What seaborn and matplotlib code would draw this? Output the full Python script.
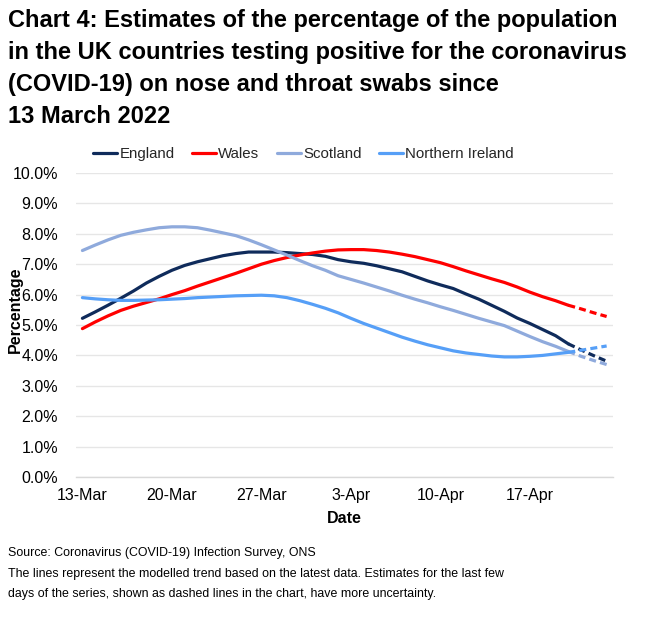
"""Chart 4: COVID-19 positivity estimates for the UK countries since 13 March 2022."""

import matplotlib.pyplot as plt
import numpy as np
import pandas as pd
import seaborn as sns

dates = pd.date_range("2022-03-13", "2022-04-23", freq="D")

england = [
    5.22, 5.43, 5.65, 5.88, 6.12, 6.38, 6.60, 6.80, 6.96, 7.08,
    7.18, 7.28, 7.35, 7.40, 7.40, 7.40, 7.38, 7.35, 7.32, 7.26,
    7.15, 7.08, 7.03, 6.95, 6.85, 6.75, 6.60, 6.45, 6.32, 6.20,
    6.02, 5.85, 5.65, 5.45, 5.23, 5.05, 4.85, 4.65, 4.38, 4.18,
    3.99, 3.81,
]
wales = [
    4.88, 5.10, 5.30, 5.48, 5.62, 5.74, 5.86, 6.00, 6.13, 6.28,
    6.42, 6.56, 6.70, 6.85, 7.00, 7.12, 7.22, 7.30, 7.37, 7.43,
    7.47, 7.48, 7.48, 7.45, 7.40, 7.33, 7.25, 7.15, 7.05, 6.92,
    6.78, 6.65, 6.52, 6.40, 6.25, 6.08, 5.93, 5.80, 5.65, 5.53,
    5.40, 5.28,
]
scotland = [
    7.45, 7.63, 7.80, 7.95, 8.05, 8.13, 8.20, 8.23, 8.23, 8.20,
    8.12, 8.03, 7.94, 7.80, 7.64, 7.47, 7.30, 7.12, 6.95, 6.80,
    6.62, 6.50, 6.38, 6.25, 6.12, 5.98, 5.85, 5.73, 5.60, 5.48,
    5.35, 5.22, 5.10, 4.98, 4.80, 4.62, 4.45, 4.30, 4.13, 3.97,
    3.83, 3.70,
]
northern_ireland = [
    5.90, 5.86, 5.83, 5.81, 5.81, 5.82, 5.83, 5.85, 5.87, 5.90,
    5.92, 5.94, 5.96, 5.97, 5.98, 5.96, 5.90, 5.80, 5.68, 5.55,
    5.40, 5.22, 5.05, 4.90, 4.75, 4.60, 4.47, 4.35, 4.25, 4.15,
    4.08, 4.03, 3.98, 3.95, 3.95, 3.97, 4.00, 4.05, 4.10, 4.17,
    4.24, 4.31,
]

series_names = ["England", "Wales", "Scotland", "Northern Ireland"]
series_values = [england, wales, scotland, northern_ireland]
series_colors = ["#0f2b5b", "#ff0000", "#8faadc", "#569ff7"]

# last few days are provisional and drawn dashed
dashed_from = 38

sns.set_theme(style="white")
plt.rcParams["font.family"] = ["Liberation Sans", "DejaVu Sans"]

fig = plt.figure(figsize=(6.47, 6.21), dpi=100)
ax = fig.add_axes([0.1175, 0.2319, 0.83, 0.4895])

days = np.arange(len(dates))
for name, values, color in zip(series_names, series_values, series_colors):
    frame = pd.DataFrame({"day": days, "value": values})
    solid = frame[frame["day"] <= dashed_from]
    dashed = frame[frame["day"] >= dashed_from]
    sns.lineplot(data=solid, x="day", y="value", color=color, linewidth=2.3,
                 label=name, ax=ax)
    sns.lineplot(data=dashed, x="day", y="value", color=color, linewidth=2.3,
                 linestyle=(0, (2.2, 1.3)), ax=ax)

ax.set_xlim(-0.5, len(dates) - 0.5)
ax.set_ylim(0, 10)
ax.set_yticks(np.arange(0, 10.5, 1))
ax.set_yticklabels([f"{v:.1f}%" for v in np.arange(0, 10.5, 1)])
ax.set_xticks(days[::7])
ax.set_xticklabels([f"{d.day}-{d.strftime('%b')}" for d in dates[::7]])
ax.set_xticks(np.arange(-0.5, len(dates), 7), minor=True)
ax.tick_params(axis="x", which="major", length=0, pad=8, labelsize=11.5,
               colors="#000000")
ax.tick_params(axis="x", which="minor", length=5, width=1, color="#d9d9d9",
               direction="out")
ax.tick_params(axis="y", length=0, pad=13, labelsize=11.5, colors="#000000")
ax.grid(axis="y", color="#e6e6e6", linewidth=1)
ax.grid(axis="x", visible=False)
for side in ["top", "right", "left"]:
    ax.spines[side].set_visible(False)
ax.spines["bottom"].set_color("#d9d9d9")
ax.spines["bottom"].set_linewidth(1)

ax.set_xlabel("Date", fontsize=11.5, fontweight="bold", color="#000000",
              labelpad=6)
ax.set_ylabel("Percentage", fontsize=11.5, fontweight="bold", color="#000000")
ax.yaxis.set_label_coords(-0.099, 0.55)

ax.legend(loc="center", bbox_to_anchor=(0.469, 0.752), bbox_transform=fig.transFigure,
          ncol=4, frameon=False, fontsize=10.8, handlelength=1.6,
          handletextpad=0.15, columnspacing=1.15)

fig.text(0.013, 0.985,
         "Chart 4: Estimates of the percentage of the population\n"
         "in the UK countries testing positive for the coronavirus\n"
         "(COVID-19) on nose and throat swabs since\n"
         "13 March 2022",
         fontsize=17, fontweight="bold", va="top", ha="left", linespacing=1.5,
         color="#000000")

fig.text(0.013, 0.119,
         "Source: Coronavirus (COVID-19) Infection Survey, ONS\n"
         "The lines represent the modelled trend based on the latest data. "
         "Estimates for the last few\n"
         "days of the series, shown as dashed lines in the chart, have more "
         "uncertainty.",
         fontsize=8.9, va="top", ha="left", linespacing=1.95,
         color="#000000")

fig.savefig("out.png", dpi=100)
